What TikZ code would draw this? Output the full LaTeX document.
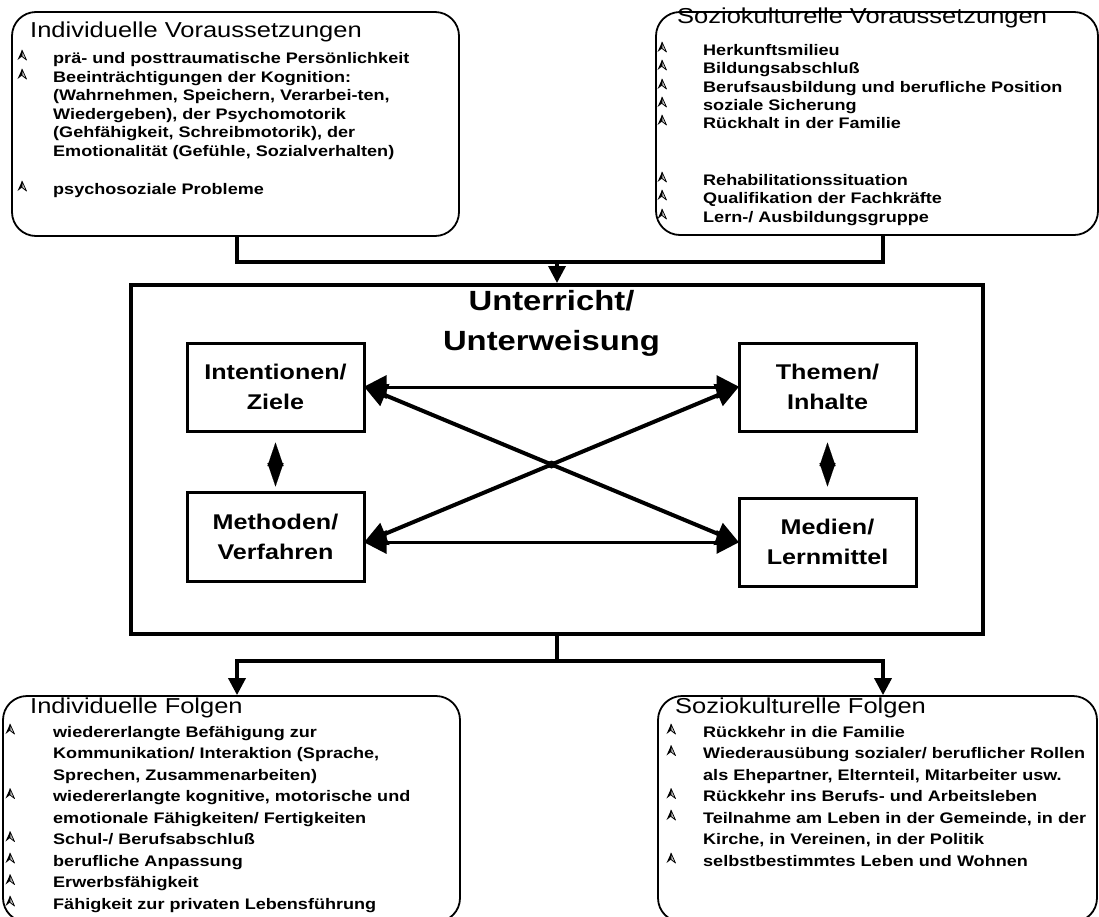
\documentclass[tikz,border=0pt]{standalone}
\usepackage{fontspec}
\setmainfont[FakeStretch=1.18]{Liberation Sans}
\usetikzlibrary{arrows.meta,calc}

% one line of a list, placed at its baseline
\newcommand\li[4]{\node[itm] (#1) at (#2,#3) {#4};}
% arrowhead bullet in front of a list item (x, baseline)
\newcommand\bu[2]{\pic at (#1,#2-3) {bul};}

\begin{document}
\begin{tikzpicture}[x=1pt,y=-1pt,
  rbox/.style={draw,line width=1.8pt,rounded corners=24pt,inner sep=0pt},
  itm/.style={anchor=base west,inner sep=0pt,font=\bfseries\fontsize{15.3}{17}\selectfont},
  ttl/.style={anchor=base west,inner sep=0pt,font=\fontsize{21.6}{24}\selectfont},
  bigttl/.style={anchor=base,inner sep=0pt,font=\bfseries\fontsize{27.8}{32}\selectfont},
  inbox/.style={draw,line width=3pt,minimum width=177pt,minimum height=88pt,
    align=center,inner sep=0pt,font=\bfseries\fontsize{21.3}{30}\selectfont},
  conn/.style={line width=3.5pt,-{Triangle[length=17pt,width=17pt]}},
  link/.style={line width=3pt,{Triangle[length=23pt,width=23pt]}-{Triangle[length=23pt,width=23pt]},
    shorten <=-2pt,shorten >=-2pt},
  diag/.style={link,line width=4pt},
  vlink/.style={line width=0.1pt,{Triangle[length=23.5pt,width=16pt]}-{Triangle[length=23.5pt,width=16pt]}},
  bul/.pic={
    \fill[black] (0,-10) -- (-4.5,0) -- (0,-3.5) -- cycle;
    \draw[line width=0.7pt,fill=gray!50,line join=round] (0,-10) -- (4.5,0) -- (0,-3.5) -- cycle;
  }]
\useasboundingbox (0,0) rectangle (1099,916);

% ---------- outer rounded boxes ----------
\node[rbox,minimum width=447pt,minimum height=224pt] (tl) at (235.5,124) {};
\node[rbox,minimum width=442pt,minimum height=223pt] (tr) at (877,123.5) {};
\node[rbox,minimum width=457pt,minimum height=226pt] (bl) at (231.5,809) {};
\node[rbox,minimum width=439pt,minimum height=226pt] (br) at (877.5,809) {};

% ---------- Individuelle Voraussetzungen ----------
\node[ttl] (tlt) at (30,37) {Individuelle Voraussetzungen};
\bu{22}{63}  \li{tl1}{53}{63}{prä- und posttraumatische Persönlichkeit}
\bu{22}{82}  \li{tl2}{53}{82}{Beeinträchtigungen der Kognition:}
             \li{tl3}{53}{100}{(Wahrnehmen, Speichern, Verarbei-ten,}
             \li{tl4}{53}{119}{Wiedergeben), der Psychomotorik}
             \li{tl5}{53}{137}{(Gehfähigkeit, Schreibmotorik), der}
             \li{tl6}{53}{156}{Emotionalität (Gefühle, Sozialverhalten)}
\bu{22}{194} \li{tl7}{53}{194}{psychosoziale Probleme}

% ---------- Soziokulturelle Voraussetzungen ----------
\node[ttl] (trt) at (677,23) {Soziokulturelle Voraussetzungen};
\bu{662}{55}  \li{tr1}{703}{55}{Herkunftsmilieu}
\bu{662}{73}  \li{tr2}{703}{73}{Bildungsabschluß}
\bu{662}{92}  \li{tr3}{703}{92}{Berufsausbildung und berufliche Position}
\bu{662}{110} \li{tr4}{703}{110}{soziale Sicherung}
\bu{662}{128} \li{tr5}{703}{128}{Rückhalt in der Familie}
\bu{662}{185} \li{tr6}{703}{185}{Rehabilitationssituation}
\bu{662}{203} \li{tr7}{703}{203}{Qualifikation der Fachkräfte}
\bu{662}{222} \li{tr8}{703}{222}{Lern-/ Ausbildungsgruppe}

% ---------- Unterricht / Unterweisung ----------
\node[draw,line width=4pt,minimum width=852pt,minimum height=349pt,inner sep=0pt] (main) at (557,459.5) {};
\node[bigttl] (ut1) at (551.5,310) {Unterricht/};
\node[bigttl] (ut2) at (551.5,350) {Unterweisung};

\node[inbox] (iz) at (275.5,387) {Intentionen/\\Ziele};
\node[inbox,minimum height=89pt] (mv) at (275.5,536.5) {Methoden/\\Verfahren};
\node[inbox] (ti) at (827.5,387) {Themen/\\Inhalte};
\node[inbox] (ml) at (827.5,542) {Medien/\\Lernmittel};

\coordinate (mve) at (mv.east |- ml.west);
\draw[link] (iz.east) -- (ti.west);
\draw[link] (mve) -- (ml.west);
\draw[diag] (iz.east) -- (ml.west);
\draw[diag] (mve) -- (ti.west);
\fill ($(iz.east)!0.5!(ml.west)$) circle (4);
\draw[vlink,shorten <=10pt,shorten >=4pt] (iz.south) -- (mv.north);
\draw[vlink,shorten <=10pt,shorten >=10pt] (ti.south) -- (ml.north);

% ---------- connectors ----------
\coordinate (jt) at (557,262);
\coordinate (jb) at (557,661);
\draw[line width=3.5pt] ([xshift=1.5pt]tl.south) |- (jt) -| ([xshift=6pt]tr.south);
\draw[conn] (jt) -- (main.north);
\draw[line width=3.5pt] (main.south) -- (jb);
\draw[conn] (jb) -| ([xshift=5.5pt]bl.north);
\draw[conn] (jb) -| ([xshift=5.5pt]br.north);

% ---------- Individuelle Folgen ----------
\node[ttl] (blt) at (30,713) {Individuelle Folgen};
\bu{10}{737}   \li{bl1}{53}{737}{wiedererlangte Befähigung zur}
               \li{bl2}{53}{758.5}{Kommunikation/ Interaktion (Sprache,}
               \li{bl3}{53}{780}{Sprechen, Zusammenarbeiten)}
\bu{10}{801.5} \li{bl4}{53}{801.5}{wiedererlangte kognitive, motorische und}
               \li{bl5}{53}{823}{emotionale Fähigkeiten/ Fertigkeiten}
\bu{10}{844.5} \li{bl6}{53}{844.5}{Schul-/ Berufsabschluß}
\bu{10}{866}   \li{bl7}{53}{866}{berufliche Anpassung}
\bu{10}{887.5} \li{bl8}{53}{887.5}{Erwerbsfähigkeit}
\bu{10}{909}   \li{bl9}{53}{909}{Fähigkeit zur privaten Lebensführung}

% ---------- Soziokulturelle Folgen ----------
\node[ttl] (brt) at (675,713) {Soziokulturelle Folgen};
\bu{671}{737}   \li{br1}{703}{737}{Rückkehr in die Familie}
\bu{671}{758.5} \li{br2}{703}{758.5}{Wiederausübung sozialer/ beruflicher Rollen}
                \li{br3}{703}{780}{als Ehepartner, Elternteil, Mitarbeiter usw.}
\bu{671}{801.5} \li{br4}{703}{801.5}{Rückkehr ins Berufs- und Arbeitsleben}
\bu{671}{823}   \li{br5}{703}{823}{Teilnahme am Leben in der Gemeinde, in der}
                \li{br6}{703}{844.5}{Kirche, in Vereinen, in der Politik}
\bu{671}{866}   \li{br7}{703}{866}{selbstbestimmtes Leben und Wohnen}
\end{tikzpicture}
\end{document}
